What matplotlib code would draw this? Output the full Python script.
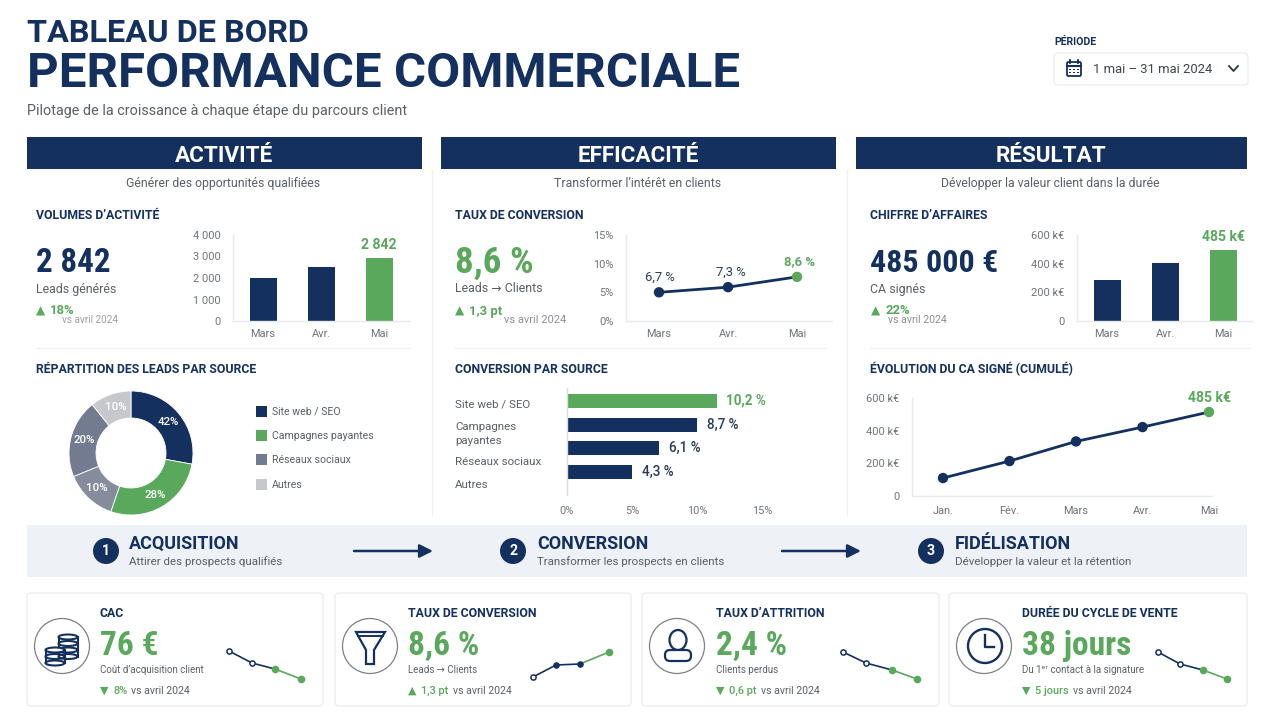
import math
import logging
import matplotlib
matplotlib.use("Agg")
import matplotlib.pyplot as plt
from matplotlib.patches import Rectangle, Circle, Ellipse, FancyBboxPatch, Polygon

logging.getLogger("matplotlib.font_manager").setLevel(logging.ERROR)

NAVY = "#14305f"
GREEN = "#5aa85c"
GREY = "#5a5f66"
TICK = "#6f747b"
LINE = "#e8eaee"
FONT = ["Roboto", "DejaVu Sans"]
NARROW = ["Roboto Condensed", "Sofia Sans Condensed", "Saira Condensed", "Roboto", "DejaVu Sans"]

# ---- data ----
months3 = ["Mars", "Avr.", "Mai"]
leads_values = [2000, 2500, 2950]
leads_ticks = [0, 1000, 2000, 3000, 4000]
leads_ticklabels = ["0", "1 000", "2 000", "3 000", "4 000"]
conv_values = [5.0, 5.9, 7.7]
conv_labels = ["6,7 %", "7,3 %", "8,6 %"]
conv_ticks = [0, 5, 10, 15]
ca_values = [286, 405, 495]
ca_ticks = [0, 200, 400, 600]
ca_ticklabels = ["0", "200 k€", "400 k€", "600 k€"]
donut_shares = [28, 27.5, 13.6, 20.5, 10.8]
donut_labels = ["42%", "28%", "10%", "20%", "10%"]
donut_colors = ["#14305f", "#5aa85c", "#858c9c", "#727b90", "#c6c8cb"]
legend_names = ["Site web / SEO", "Campagnes payantes", "Réseaux sociaux", "Autres"]
legend_colors = ["#14305f", "#5aa85c", "#727b90", "#c6c8cb"]
source_values = [11.5, 10.0, 7.1, 5.0]
source_labels = ["10,2 %", "8,7 %", "6,1 %", "4,3 %"]
source_ticks = [0, 5, 10, 15]
months5 = ["Jan.", "Fév.", "Mars", "Avr.", "Mai"]
cumul_values = [110, 214, 334, 422, 514]
spark_cac = [34, 22, 16, 6]
spark_conv = [8, 20, 21, 33]
spark_attr = [33, 22, 15, 6]
spark_cycle = [33, 21, 15, 6]

fig = plt.figure(figsize=(12.8, 7.2), dpi=100, facecolor="white")
bg = fig.add_axes([0, 0, 1, 1], zorder=0)
bg.set_xlim(0, 1280)
bg.set_ylim(720, 0)
bg.axis("off")


def T(x, y, s, px, color=GREY, weight="normal", ha="left", va="center", family=FONT, ax=bg, **kw):
    return ax.text(x, y + 1, s, fontsize=px * 0.72, color=color, fontweight=weight, ha=ha, va=va, family=family, **kw)


def px_axes(x0, top, x1, bottom):
    ax = fig.add_axes([x0 / 1280, 1 - bottom / 720, (x1 - x0) / 1280, (bottom - top) / 720], zorder=2)
    ax.patch.set_alpha(0)
    for s in ax.spines.values():
        s.set_visible(False)
    for s in ("left", "bottom"):
        ax.spines[s].set_visible(True)
        ax.spines[s].set_color(LINE)
        ax.spines[s].set_linewidth(1)
    ax.tick_params(length=0, colors=TICK, labelsize=11 * 0.72)
    return ax


def style_ticks(ax, xpad, ypad):
    ax.tick_params(axis="x", pad=xpad)
    ax.tick_params(axis="y", pad=ypad)
    for lab in ax.get_xticklabels() + ax.get_yticklabels():
        lab.set_family(FONT)
        lab.set_color(TICK)
        lab.set_fontsize(11 * 0.72)


# ---- header ----
T(27, 31.5, "TABLEAU DE BORD", 32.5, NAVY, "bold")
T(27, 73, "PERFORMANCE COMMERCIALE", 49.3, NAVY, "bold")
T(27, 110, "Pilotage de la croissance à chaque étape du parcours client", 14.4, GREY)
T(1054, 41, "PÉRIODE", 10.5, NAVY, "bold")
bg.add_patch(FancyBboxPatch((1054, 53), 194, 32, boxstyle="round,pad=0,rounding_size=4", fc="white", ec=LINE, lw=0.8))
T(1093, 68.5, "1 mai – 31 mai 2024", 13, "#3f444b")
# calendar icon
bg.add_patch(FancyBboxPatch((1067, 62), 14, 14, boxstyle="round,pad=0,rounding_size=1.5", fc="none", ec=NAVY, lw=1.3))
bg.plot([1067, 1081], [66, 66], color=NAVY, lw=1.5)
bg.plot([1070, 1070], [60, 63], color=NAVY, lw=1.3)
bg.plot([1078, 1078], [60, 63], color=NAVY, lw=1.3)
for cx in (1070, 1074, 1078):
    for cy in (69.5, 72.5):
        bg.add_patch(Rectangle((cx - 0.8, cy - 0.8), 1.6, 1.6, fc=NAVY, ec="none"))
bg.plot([1229, 1233.5, 1238], [66, 71, 66], color="#2b3542", lw=1.3)

# ---- section headers ----
sections = [(27, 422, "ACTIVITÉ", "Générer des opportunités qualifiées"),
            (441, 836, "EFFICACITÉ", "Transformer l’intérêt en clients"),
            (856, 1247, "RÉSULTAT", "Développer la valeur client dans la durée")]
for x0, x1, title, sub in sections:
    bg.add_patch(Rectangle((x0, 137), x1 - x0, 32, fc=NAVY, ec="none"))
    T((x0 + x1) / 2 - 0.5, 154.5, title, 22.5, "white", "bold", ha="center")
    T((x0 + x1) / 2 - 1, 182.5, sub, 12.25, GREY, ha="center")
for x in (432, 847):
    bg.plot([x, x], [170, 515], color="#eef0f3", lw=1)
for x0, x1 in ((36, 410), (455, 826), (870, 1250)):
    bg.plot([x0, x1], [348, 348], color="#f0f1f4", lw=1)

for x, s in ((36, "VOLUMES D’ACTIVITÉ"), (455, "TAUX DE CONVERSION"), (870, "CHIFFRE D’AFFAIRES")):
    T(x, 214.5, s, 12.2, NAVY, "bold")
for x, s in ((36, "RÉPARTITION DES LEADS PAR SOURCE"), (455, "CONVERSION PAR SOURCE"), (870, "ÉVOLUTION DU CA SIGNÉ (CUMULÉ)")):
    T(x, 368.5, s, 12.3, NAVY, "bold")

# ---- KPI blocks ----
T(36, 261.5, "2 842", 33, NAVY, "bold", family=NARROW)
T(36, 288, "Leads générés", 12.4, GREY)
T(36, 310, "▲", 12, GREEN)
T(50, 310, "18%", 13, GREEN, "bold")
T(62, 319, "vs avril 2024", 10, "#9a9ea4")

T(455, 261.5, "8,6 %", 37, GREEN, "bold", family=NARROW)
T(455, 288, "Leads → Clients", 12.4, GREY)
T(455, 310, "▲", 12, GREEN)
T(469, 310, "1,3 pt", 13, GREEN, "bold")
T(504, 319, "vs avril 2024", 11, "#8a8e94")

T(870, 261.5, "485 000 €", 32, NAVY, "bold", family=NARROW)
T(870, 288, "CA signés", 12.4, GREY)
T(871, 310, "▲", 12, GREEN)
T(885, 310, "22%", 13, GREEN, "bold")
T(888, 319, "vs avril 2024", 10.5, "#8a8e94")

# ---- leads bar chart ----
ax = px_axes(233, 235, 410, 321)
xs = range(len(months3))
ax.bar(xs, leads_values, width=27 / 58, color=[NAVY, NAVY, GREEN])
ax.set_xlim(-30 / 58, 2 + 31 / 58)
ax.set_ylim(0, 4000)
ax.set_xticks(list(xs), months3)
ax.set_yticks(leads_ticks, leads_ticklabels)
style_ticks(ax, 6, 9)
ax.annotate("2 842", (2, leads_values[2]), xytext=(0, 4), textcoords="offset points", ha="center", va="bottom",
            color=GREEN, fontsize=14 * 0.72, fontweight="bold", family=FONT)

# ---- conversion line ----
ax = px_axes(626, 235, 832, 321)
ax.plot(xs, conv_values, color=NAVY, lw=2.0, zorder=2)
ax.scatter(xs, conv_values, s=42, color=[NAVY, NAVY, GREEN], zorder=3, clip_on=False)
ax.set_xlim(-33 / 69, 2 + 35 / 69)
ax.set_ylim(0, 15)
ax.set_xticks(list(xs), months3)
ax.set_yticks(conv_ticks, [f"{v}%" for v in conv_ticks])
style_ticks(ax, 6, 9)
for i, (v, lab) in enumerate(zip(conv_values, conv_labels)):
    ax.annotate(lab, (i, v), xytext=(2 if i else 1, 6), textcoords="offset points", ha="center", va="bottom",
                color=GREEN if i == 2 else "#2b3b55", fontsize=13 * 0.72,
                fontweight="bold" if i == 2 else "normal", family=FONT)

# ---- CA bars ----
ax = px_axes(1077, 235, 1252, 321)
ax.bar(xs, ca_values, width=27 / 58, color=[NAVY, NAVY, GREEN])
ax.set_xlim(-30 / 58, 2 + 29 / 58)
ax.set_ylim(0, 600)
ax.set_xticks(list(xs), months3)
ax.set_yticks(ca_ticks, ca_ticklabels)
style_ticks(ax, 6, 9)
ax.annotate("485 k€", (2, ca_values[2]), xytext=(0, 4), textcoords="offset points", ha="center", va="bottom",
            color=GREEN, fontsize=14 * 0.72, fontweight="bold", family=FONT)

# ---- donut ----
ax = fig.add_axes([(131 - 63) / 1280, 1 - (453 + 63) / 720, 126 / 1280, 126 / 720], zorder=2)
wedges, _ = ax.pie(donut_shares, colors=donut_colors, startangle=90, counterclock=False, radius=62 / 63,
                   wedgeprops=dict(width=27 / 63, edgecolor="white", linewidth=0.6))
ax.set_xlim(-1, 1)
ax.set_ylim(-1, 1)
ang = 90.0
for share, lab in zip(donut_shares, donut_labels):
    mid = ang - share * 3.6 / 2
    ang -= share * 3.6
    r = 48.5 / 63
    ax.text(r * math.cos(math.radians(mid)), r * math.sin(math.radians(mid)), lab, color="white",
            fontsize=11.5 * 0.72, ha="center", va="center", family=FONT, fontweight="medium")
for name, col, y in zip(legend_names, legend_colors, (411, 435.5, 459.5, 484)):
    bg.add_patch(Rectangle((256, y - 5.5), 11, 11, fc=col, ec="none"))
    T(272, y - 0.5, name, 10.5, GREY)

# ---- conversion by source ----
ax = px_axes(567, 388, 762, 495)
ys = list(range(len(source_values)))
ax.barh(ys, source_values, height=14 / 23.7, color=[GREEN, NAVY, NAVY, NAVY])
ax.set_xlim(0, 15)
ax.set_ylim(3.97, -0.55)
ax.spines["bottom"].set_visible(False)
ax.spines["left"].set_color("#d9dce1")
ax.set_xticks(source_ticks, [f"{v}%" for v in source_ticks])
ax.set_yticks([])
style_ticks(ax, 8, 0)
for i, (v, lab) in enumerate(zip(source_values, source_labels)):
    ax.annotate(lab, (v, i), xytext=(7, 0), textcoords="offset points", ha="left", va="center",
                color=GREEN if i == 0 else "#2b3b55", fontsize=13.5 * 0.72, fontweight="bold" if i == 0 else "medium",
                family=FONT)
for y, s in ((403, "Site web / SEO"), (426, "Campagnes"), (440, "payantes"), (461, "Réseaux sociaux"), (484.5, "Autres")):
    T(455, y, s, 11.5, GREY)

# ---- cumulative line ----
ax = px_axes(912, 398, 1212, 496)
x5 = range(len(months5))
ax.plot(x5, cumul_values, color=NAVY, lw=2.0, zorder=2)
ax.scatter(x5, cumul_values, s=42, color=[NAVY] * 4 + [GREEN], zorder=3, clip_on=False)
ax.set_xlim(-31 / 66.5, 4 + 3 / 66.5)
ax.set_ylim(0, 600)
ax.set_xticks(list(x5), months5)
ax.set_yticks(ca_ticks, ca_ticklabels)
style_ticks(ax, 7, 9)
ax.annotate("485 k€", (4, cumul_values[4]), xytext=(0, 5), textcoords="offset points", ha="center", va="bottom",
            color=GREEN, fontsize=14 * 0.72, fontweight="bold", family=FONT)

# ---- journey band ----
bg.add_patch(Rectangle((27, 525), 1220, 52, fc="#eef1f6", ec="none"))
steps = [(106, 129, "1", "ACQUISITION", "Attirer des prospects qualifiés"),
         (513, 537, "2", "CONVERSION", "Transformer les prospects en clients"),
         (931, 955, "3", "FIDÉLISATION", "Développer la valeur et la rétention")]
for cx, tx, n, title, sub in steps:
    bg.add_patch(Circle((cx, 551), 13, fc=NAVY, ec="none"))
    T(cx, 550, n, 14, "white", "bold", ha="center")
    T(tx, 543, title, 18, NAVY, "bold")
    T(tx, 561, sub, 11.5, GREY)
for x0, x1 in ((354, 433), (782, 861)):
    bg.annotate("", xy=(x1, 551), xytext=(x0, 551),
                arrowprops=dict(arrowstyle="-|>,head_length=0.8,head_width=0.4", color=NAVY, lw=1.8, shrinkA=0, shrinkB=0))

# ---- KPI cards ----
cards = [(27, 323, 100, "CAC", "76 €", "Coût d’acquisition client", "▼", "8%"),
         (335, 631, 408, "TAUX DE CONVERSION", "8,6 %", "Leads → Clients", "▲", "1,3 pt"),
         (642, 939, 716, "TAUX D’ATTRITION", "2,4 %", "Clients perdus", "▼", "0,6 pt"),
         (949, 1247, 1022, "DURÉE DU CYCLE DE VENTE", "38 jours", "Du 1ᵉʳ contact à la signature", "▼", "5 jours")]
delta_w = {"8%": 15, "1,3 pt": 29, "0,6 pt": 29, "5 jours": 35}
for x0, x1, tx, title, val, sub, arrow, delta in cards:
    bg.add_patch(FancyBboxPatch((x0, 593), x1 - x0, 113, boxstyle="round,pad=0,rounding_size=4", fc="white", ec=LINE, lw=0.8))
    cx = x0 + 35
    bg.add_patch(Circle((cx, 646), 27.5, fc="white", ec="#7d8187", lw=0.9))
    T(tx, 612.5, title, 12.2, NAVY, "bold")
    T(tx, 645, val, 33.5, GREEN, "bold", family=NARROW)
    T(tx, 669, sub, 9.8, GREY)
    T(tx, 690, arrow, 11, GREEN)
    T(tx + 13, 690, delta, 11, GREEN, "medium")
    T(tx + 13 + delta_w[delta] + 3, 690, "vs avril 2024", 10.5, GREY)


# coins icon
def coin_stack(cx, top, n, w=19, step=6.5):
    for i in range(n - 1, -1, -1):
        y = top + i * step
        bg.add_patch(Rectangle((cx - w / 2, y), w, step, fc="white", ec="none", zorder=3))
        bg.plot([cx - w / 2, cx - w / 2], [y, y + step], color=NAVY, lw=1.5, zorder=4)
        bg.plot([cx + w / 2, cx + w / 2], [y, y + step], color=NAVY, lw=1.5, zorder=4)
        bg.add_patch(Ellipse((cx, y + step), w, 5, fc="none", ec=NAVY, lw=1.5, zorder=4))
    bg.add_patch(Ellipse((cx, top), w, 5, fc="white", ec=NAVY, lw=1.5, zorder=5))


coin_stack(68, 637, 3)
coin_stack(55, 650, 2)

# funnel icon
bg.add_patch(Polygon([(356, 632), (385, 632), (374, 650), (374, 664), (366, 664), (366, 650)], closed=True, fc="none", ec=NAVY, lw=1.6, zorder=4))
bg.plot([358, 383], [636, 636], color=NAVY, lw=1.4, zorder=4)
# person icon
bg.add_patch(Ellipse((678, 640), 17, 20, fc="none", ec=NAVY, lw=1.6, zorder=4))
bg.add_patch(FancyBboxPatch((665, 650), 26, 11, boxstyle="round,pad=0,rounding_size=5", fc="white", ec=NAVY, lw=1.6, zorder=4))
# clock icon
bg.add_patch(Circle((985, 646), 17, fc="none", ec=NAVY, lw=1.7, zorder=4))
bg.plot([985, 985, 994], [635, 647, 647], color=NAVY, lw=1.7, zorder=4)

# ---- sparklines ----
sparks = [(229, 301, [0, 23, 46, 72], spark_cac), (533, 609, [0, 23, 47, 76], spark_conv),
          (843, 917, [0, 23, 49, 74], spark_attr), (1158, 1227, [0, 22, 45, 69], spark_cycle)]
for x0, x1, xv, vals in sparks:
    ax = px_axes(x0, 645, x1, 685)
    ax.axis("off")
    ax.set_xlim(0, x1 - x0)
    ax.set_ylim(0, 40)
    ax.plot(xv[:3], vals[:3], color=NAVY, lw=1.2, zorder=2)
    ax.plot(xv[2:], vals[2:], color=GREEN, lw=1.2, zorder=2)
    ax.scatter(xv[:1], vals[:1], s=14, facecolor="white", edgecolor=NAVY, lw=1.1, zorder=3, clip_on=False)
    if vals is spark_conv:
        ax.scatter(xv[1:3], vals[1:3], s=14, color=NAVY, zorder=3, clip_on=False)
        ax.scatter(xv[3:], vals[3:], s=20, color=GREEN, zorder=3, clip_on=False)
    else:
        ax.scatter(xv[1:2], vals[1:2], s=14, facecolor="white", edgecolor=NAVY, lw=1.1, zorder=3, clip_on=False)
        ax.scatter(xv[2:], vals[2:], s=20, color=GREEN, zorder=3, clip_on=False)

fig.savefig("out.png", dpi=100, facecolor="white")
